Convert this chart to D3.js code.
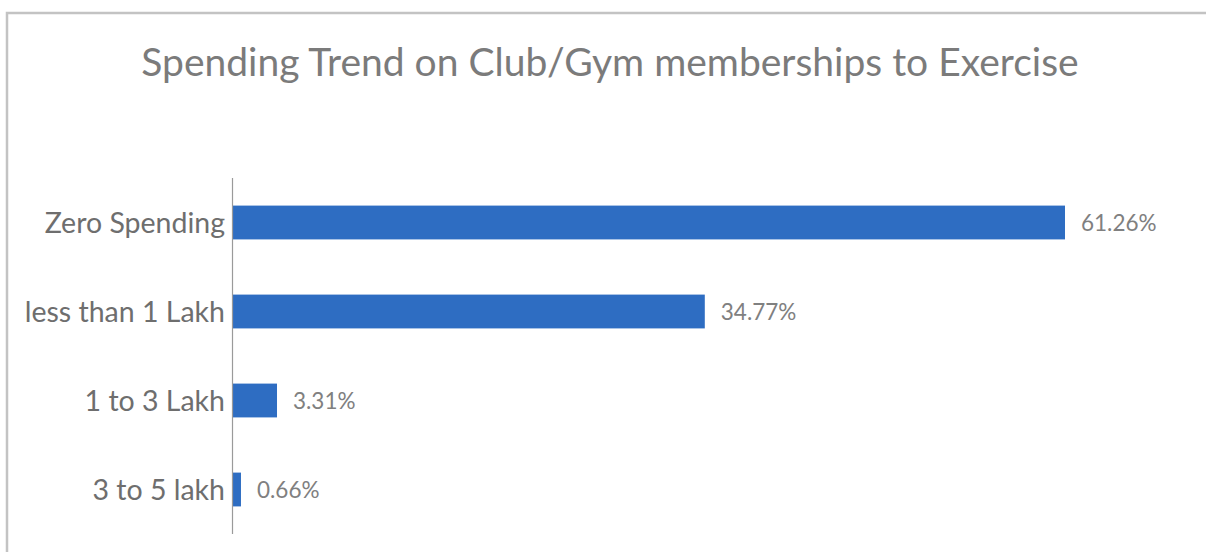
<!DOCTYPE html>
<html>
<head>
<meta charset="utf-8">
<script src="https://cdn.jsdelivr.net/npm/d3@7/dist/d3.min.js"></script>
<style>
  html, body { margin: 0; padding: 0; background: #ffffff; }
  svg { display: block; }
</style>
</head>
<body>
<svg id="chart" width="1206" height="552"></svg>
<script>
const titleText = "Spending Trend on Club/Gym memberships to Exercise";
const categories = ["Zero Spending", "less than 1 Lakh", "1 to 3 Lakh", "3 to 5 lakh"];
const values = [61.26, 34.77, 3.31, 0.66];
const valueLabels = ["61.26%", "34.77%", "3.31%", "0.66%"];

const W = 1206, H = 552;
const svg = d3.select("#chart");
const font = "Lato, 'Open Sans', sans-serif";

// frame
svg.append("rect").attr("x", 7).attr("y", 13).attr("width", W + 10).attr("height", H + 10)
  .attr("fill", "none").attr("stroke", "#c3c3c3").attr("stroke-width", 2.5);

// title
svg.append("text").attr("x", 610).attr("y", 76).attr("text-anchor", "middle")
  .attr("font-family", font).attr("font-size", 39).attr("fill", "#7b7b7b")
  .text(titleText);

const x0 = 232;
const x = d3.scaleLinear().domain([0, 61.26]).range([x0, 1065]);
const y = d3.scaleBand().domain(categories).range([178, 534]).paddingInner(0.62).paddingOuter(0.31);

// bars
svg.selectAll("rect.bar").data(categories).join("rect").attr("class", "bar")
  .attr("x", x(0)).attr("y", d => y(d))
  .attr("width", (d, i) => x(values[i]) - x(0)).attr("height", y.bandwidth())
  .attr("fill", "#2E6DC2");

// axis
const axis = d3.axisLeft(y).tickSize(0).tickPadding(7);
const g = svg.append("g").attr("transform", `translate(${x0},0)`).call(axis);
g.select(".domain").attr("stroke", "#9a9a9a").attr("stroke-width", 1.2).attr("d", "M0.5,178V534");
g.selectAll(".tick text").attr("font-family", font).attr("font-size", 28.5).attr("fill", "#6e6e6e")
  .attr("dy", "0.36em");

// value labels
svg.selectAll("text.val").data(categories).join("text").attr("class", "val")
  .attr("x", (d, i) => x(values[i]) + 16).attr("y", d => y(d) + y.bandwidth() / 2)
  .attr("dy", "0.36em").attr("font-family", font).attr("font-size", 22.5).attr("fill", "#808080")
  .text((d, i) => valueLabels[i]);
</script>
</body>
</html>
